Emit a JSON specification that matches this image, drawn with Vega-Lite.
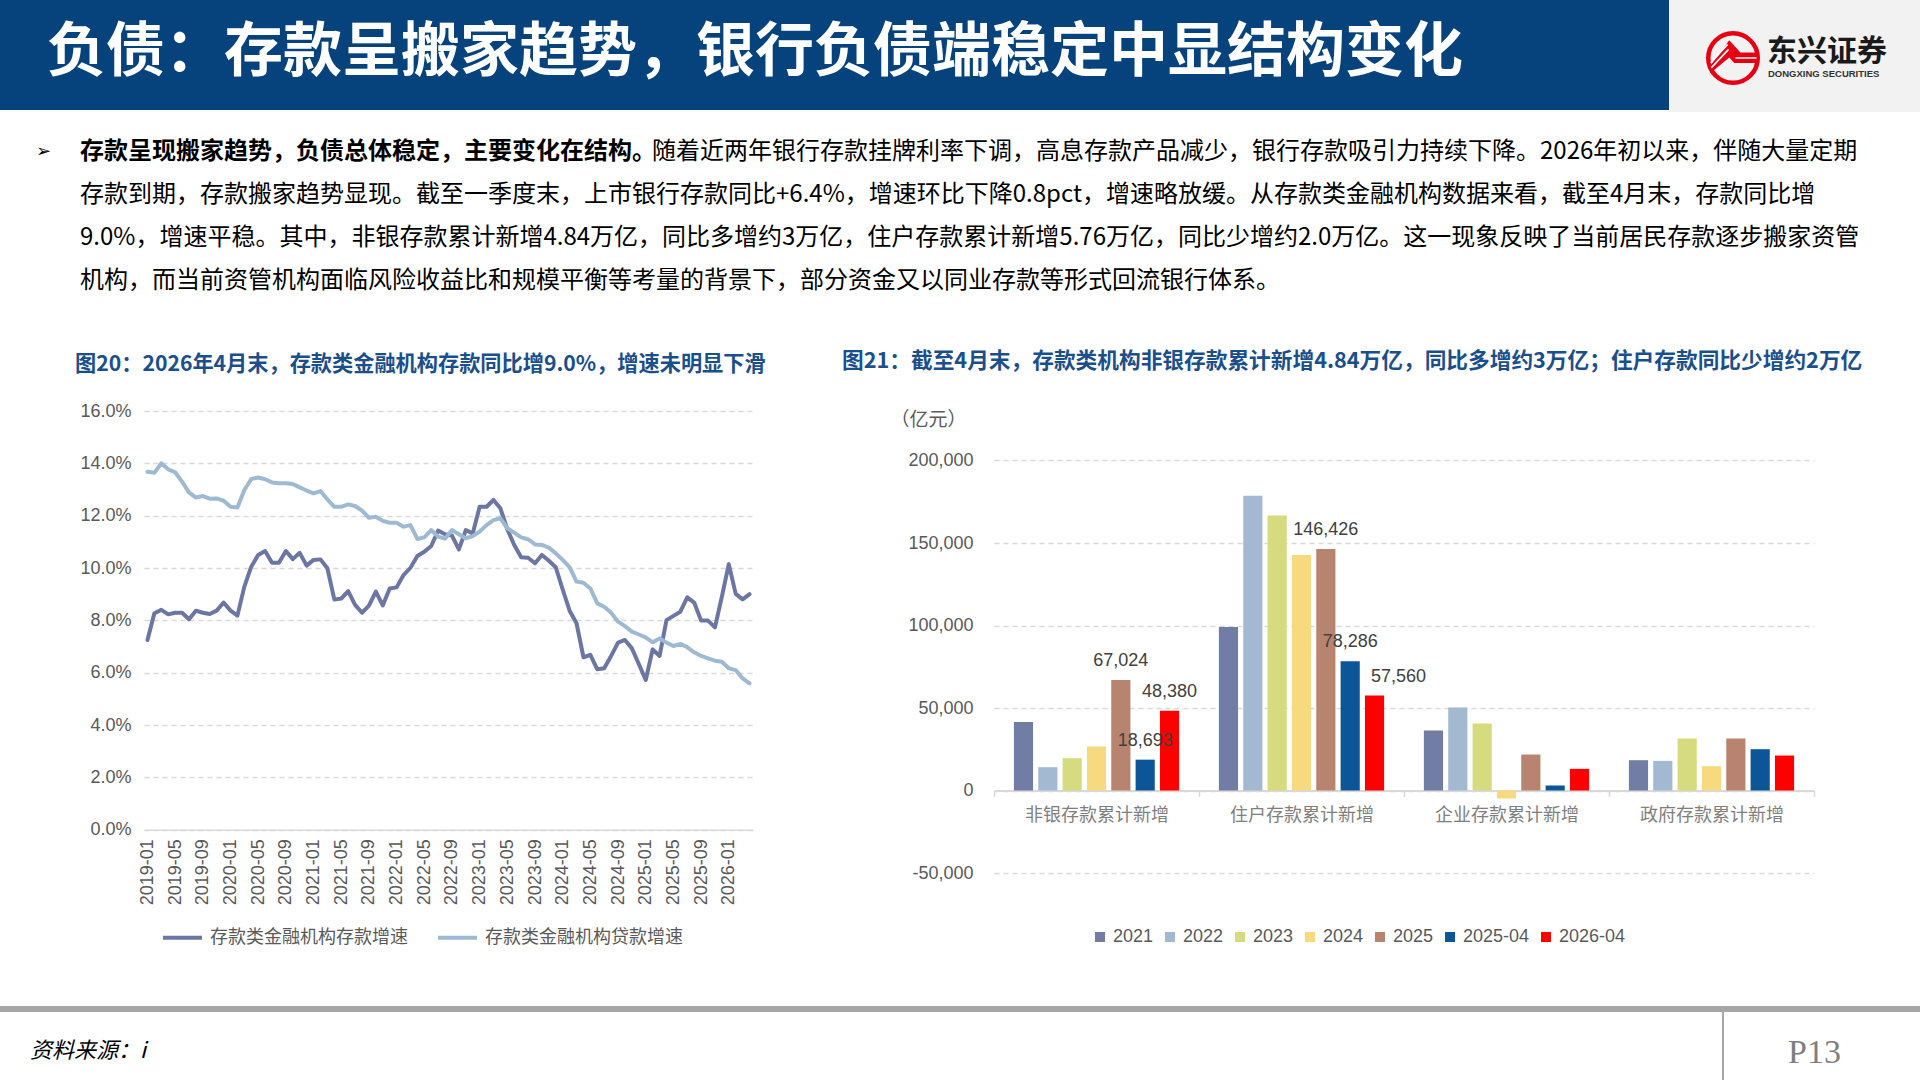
{
  "$schema": "https://vega.github.io/schema/vega-lite/v6.json",
  "padding": 0,
  "spacing": 0,
  "bounds": "flush",
  "resolve": {"scale": {"color": "independent", "x": "independent", "y": "independent"}, "legend": {"color": "independent"}},
  "config": {
    "view": {"stroke": null},
    "font": "Liberation Sans, Noto Sans CJK SC, sans-serif",
    "axis": {"labelFont": "Liberation Sans, Noto Sans CJK SC, sans-serif", "titleFont": "Liberation Sans, Noto Sans CJK SC, sans-serif"},
    "legend": {"labelFont": "Liberation Sans, Noto Sans CJK SC, sans-serif"}
  },
  "hconcat": [
    {
      "width": 143.8,
      "height": 462,
      "data": {"values": [{}]},
      "layer": [
        {"mark": {"type": "rect", "color": "#06437D"}, "encoding": {"x": {"value": 0}, "x2": {"value": 1669}, "y": {"value": -411}, "y2": {"value": -301}}},
        {"mark": {"type": "rect", "color": "#F2F2F2"}, "encoding": {"x": {"value": 1669}, "x2": {"value": 1920}, "y": {"value": -411}, "y2": {"value": -299}}},
        {"mark": {"type": "text", "font": "Noto Sans CJK SC", "fontSize": 59, "fontWeight": "bold", "color": "#FFFFFF", "align": "left", "baseline": "middle"}, "encoding": {"x": {"value": 47}, "y": {"value": -358}, "text": {"value": "负债：存款呈搬家趋势，银行负债端稳定中显结构变化"}}},
        {"mark": {"type": "point", "shape": "circle", "size": 2450, "filled": false, "color": "#E60012", "strokeWidth": 4.5, "opacity": 1}, "encoding": {"x": {"value": 1733}, "y": {"value": -353}}},
        {"mark": {"type": "point", "shape": "M-0.95,0.35 L-0.15,-0.72 L0.3,-0.22 L0.98,-0.22 L0.98,0.2 L0.05,0.2 L-0.15,-0.02 L-0.9,0.6 Z", "size": 2450, "filled": true, "color": "#E60012", "opacity": 1}, "encoding": {"x": {"value": 1733}, "y": {"value": -353}}},
        {"mark": {"type": "point", "shape": "M-0.9,0.2 L-0.22,-0.55 M-0.88,0.4 L-0.18,-0.35 M0.1,0.0 L0.95,0.0", "size": 2450, "filled": false, "color": "#FFFFFF", "strokeWidth": 1.6, "opacity": 1}, "encoding": {"x": {"value": 1733}, "y": {"value": -353}}},
        {"mark": {"type": "text", "font": "Noto Sans CJK SC", "fontSize": 30, "fontWeight": "bold", "color": "#1A1A1A", "align": "left", "baseline": "middle"}, "encoding": {"x": {"value": 1767}, "y": {"value": -359}, "text": {"value": "东兴证券"}}},
        {"mark": {"type": "text", "font": "Liberation Sans", "fontSize": 9.5, "fontWeight": "bold", "color": "#333333", "align": "left", "baseline": "middle"}, "encoding": {"x": {"value": 1768}, "y": {"value": -337}, "text": {"value": "DONGXING SECURITIES"}}},
        {"mark": {"type": "text", "font": "DejaVu Sans", "fontSize": 18, "color": "#000000", "align": "left", "baseline": "middle"}, "encoding": {"x": {"value": 36}, "y": {"value": -259}, "text": {"value": "➢"}}},
        {"mark": {"type": "text", "font": "Noto Sans CJK SC", "fontSize": 24, "fontWeight": "bold", "color": "#000000", "align": "left", "baseline": "middle"}, "encoding": {"x": {"value": 80}, "y": {"value": -259}, "text": {"value": "存款呈现搬家趋势，负债总体稳定，主要变化在结构。"}}},
        {"mark": {"type": "text", "font": "Noto Sans CJK SC", "fontSize": 24, "color": "#000000", "align": "left", "baseline": "middle"}, "encoding": {"x": {"value": 652}, "y": {"value": -259}, "text": {"value": "随着近两年银行存款挂牌利率下调，高息存款产品减少，银行存款吸引力持续下降。2026年初以来，伴随大量定期"}}},
        {"mark": {"type": "text", "font": "Noto Sans CJK SC", "fontSize": 24, "color": "#000000", "align": "left", "baseline": "middle", "lineHeight": 43}, "encoding": {"x": {"value": 80}, "y": {"value": -216}, "text": {"value": ["存款到期，存款搬家趋势显现。截至一季度末，上市银行存款同比+6.4%，增速环比下降0.8pct，增速略放缓。从存款类金融机构数据来看，截至4月末，存款同比增", "9.0%，增速平稳。其中，非银存款累计新增4.84万亿，同比多增约3万亿，住户存款累计新增5.76万亿，同比少增约2.0万亿。这一现象反映了当前居民存款逐步搬家资管", "机构，而当前资管机构面临风险收益比和规模平衡等考量的背景下，部分资金又以同业存款等形式回流银行体系。"]}}},
        {"mark": {"type": "rect", "color": "#A6A6A6"}, "encoding": {"x": {"value": 0}, "x2": {"value": 1920}, "y": {"value": 595}, "y2": {"value": 601}}},
        {"mark": {"type": "rule", "color": "#A6A6A6", "strokeWidth": 2}, "encoding": {"x": {"value": 1723}, "y": {"value": 601}, "y2": {"value": 669}}},
        {"mark": {"type": "text", "font": "Noto Sans CJK SC", "fontSize": 22, "fontStyle": "italic", "color": "#000000", "align": "left", "baseline": "middle"}, "encoding": {"x": {"value": 30}, "y": {"value": 640}, "text": {"value": "资料来源：i"}}},
        {"mark": {"type": "text", "font": "Liberation Serif", "fontSize": 34, "color": "#7F7F7F", "align": "left", "baseline": "middle"}, "encoding": {"x": {"value": 1788}, "y": {"value": 642}, "text": {"value": "P13"}}}
      ]
    },
    {
      "width": 609,
      "height": 418.7,
      "title": {"text": "图20：2026年4月末，存款类金融机构存款同比增9.0%，增速未明显下滑", "anchor": "start", "frame": "group", "dx": -69, "offset": 6, "baseline": "bottom", "font": "Noto Sans CJK SC", "fontSize": 21.2, "fontWeight": "bold", "color": "#1A4F8B"},
      "data": {"values": [
        {"month":"2019-01","deposit":7.25,"loan":13.68},
        {"month":"2019-02","deposit":8.27,"loan":13.64},
        {"month":"2019-03","deposit":8.40,"loan":14.00},
        {"month":"2019-04","deposit":8.23,"loan":13.77},
        {"month":"2019-05","deposit":8.29,"loan":13.66},
        {"month":"2019-06","deposit":8.29,"loan":13.30},
        {"month":"2019-07","deposit":8.04,"loan":12.89},
        {"month":"2019-08","deposit":8.37,"loan":12.69},
        {"month":"2019-09","deposit":8.29,"loan":12.75},
        {"month":"2019-10","deposit":8.24,"loan":12.65},
        {"month":"2019-11","deposit":8.37,"loan":12.66},
        {"month":"2019-12","deposit":8.68,"loan":12.57},
        {"month":"2020-01","deposit":8.37,"loan":12.34},
        {"month":"2020-02","deposit":8.18,"loan":12.31},
        {"month":"2020-03","deposit":9.29,"loan":12.98},
        {"month":"2020-04","deposit":10.05,"loan":13.40},
        {"month":"2020-05","deposit":10.50,"loan":13.46},
        {"month":"2020-06","deposit":10.65,"loan":13.39},
        {"month":"2020-07","deposit":10.20,"loan":13.27},
        {"month":"2020-08","deposit":10.20,"loan":13.24},
        {"month":"2020-09","deposit":10.65,"loan":13.24},
        {"month":"2020-10","deposit":10.34,"loan":13.21},
        {"month":"2020-11","deposit":10.58,"loan":13.08},
        {"month":"2020-12","deposit":10.09,"loan":12.96},
        {"month":"2021-01","deposit":10.31,"loan":12.85},
        {"month":"2021-02","deposit":10.33,"loan":12.94},
        {"month":"2021-03","deposit":9.99,"loan":12.62},
        {"month":"2021-04","deposit":8.80,"loan":12.34},
        {"month":"2021-05","deposit":8.83,"loan":12.34},
        {"month":"2021-06","deposit":9.12,"loan":12.43},
        {"month":"2021-07","deposit":8.59,"loan":12.37},
        {"month":"2021-08","deposit":8.29,"loan":12.19},
        {"month":"2021-09","deposit":8.56,"loan":11.92},
        {"month":"2021-10","deposit":9.10,"loan":11.96},
        {"month":"2021-11","deposit":8.57,"loan":11.80},
        {"month":"2021-12","deposit":9.22,"loan":11.73},
        {"month":"2022-01","deposit":9.26,"loan":11.73},
        {"month":"2022-02","deposit":9.73,"loan":11.58},
        {"month":"2022-03","deposit":10.01,"loan":11.64},
        {"month":"2022-04","deposit":10.46,"loan":11.11},
        {"month":"2022-05","deposit":10.62,"loan":11.17},
        {"month":"2022-06","deposit":10.84,"loan":11.45},
        {"month":"2022-07","deposit":11.43,"loan":11.20},
        {"month":"2022-08","deposit":11.29,"loan":11.12},
        {"month":"2022-09","deposit":11.24,"loan":11.45},
        {"month":"2022-10","deposit":10.71,"loan":11.29},
        {"month":"2022-11","deposit":11.45,"loan":11.13},
        {"month":"2022-12","deposit":11.32,"loan":11.22},
        {"month":"2023-01","deposit":12.34,"loan":11.39},
        {"month":"2023-02","deposit":12.34,"loan":11.64},
        {"month":"2023-03","deposit":12.60,"loan":11.83},
        {"month":"2023-04","deposit":12.28,"loan":11.90},
        {"month":"2023-05","deposit":11.48,"loan":11.52},
        {"month":"2023-06","deposit":10.88,"loan":11.35},
        {"month":"2023-07","deposit":10.41,"loan":11.17},
        {"month":"2023-08","deposit":10.39,"loan":11.10},
        {"month":"2023-09","deposit":10.18,"loan":10.90},
        {"month":"2023-10","deposit":10.50,"loan":10.88},
        {"month":"2023-11","deposit":10.28,"loan":10.78},
        {"month":"2023-12","deposit":10.03,"loan":10.56},
        {"month":"2024-01","deposit":9.18,"loan":10.31},
        {"month":"2024-02","deposit":8.37,"loan":10.03},
        {"month":"2024-03","deposit":7.89,"loan":9.48},
        {"month":"2024-04","deposit":6.59,"loan":9.44},
        {"month":"2024-05","deposit":6.68,"loan":9.22},
        {"month":"2024-06","deposit":6.13,"loan":8.65},
        {"month":"2024-07","deposit":6.17,"loan":8.52},
        {"month":"2024-08","deposit":6.64,"loan":8.29},
        {"month":"2024-09","deposit":7.15,"loan":7.95},
        {"month":"2024-10","deposit":7.25,"loan":7.78},
        {"month":"2024-11","deposit":6.93,"loan":7.57},
        {"month":"2024-12","deposit":6.33,"loan":7.46},
        {"month":"2025-01","deposit":5.72,"loan":7.35},
        {"month":"2025-02","deposit":6.89,"loan":7.16},
        {"month":"2025-03","deposit":6.64,"loan":7.31},
        {"month":"2025-04","deposit":8.01,"loan":7.15},
        {"month":"2025-05","deposit":8.17,"loan":7.02},
        {"month":"2025-06","deposit":8.33,"loan":7.10},
        {"month":"2025-07","deposit":8.88,"loan":6.97},
        {"month":"2025-08","deposit":8.68,"loan":6.78},
        {"month":"2025-09","deposit":7.99,"loan":6.64},
        {"month":"2025-10","deposit":7.99,"loan":6.55},
        {"month":"2025-11","deposit":7.73,"loan":6.46},
        {"month":"2025-12","deposit":8.90,"loan":6.42},
        {"month":"2026-01","deposit":10.15,"loan":6.17},
        {"month":"2026-02","deposit":9.01,"loan":6.10},
        {"month":"2026-03","deposit":8.80,"loan":5.78},
        {"month":"2026-04","deposit":9.00,"loan":5.59}
      ]},
      "transform": [{"fold": ["deposit", "loan"], "as": ["series", "value"]}],
      "mark": {"type": "line", "strokeWidth": 4, "strokeJoin": "round", "strokeCap": "round"},
      "encoding": {
        "x": {"field": "month", "type": "ordinal", "sort": null, "scale": {"type": "point", "padding": 0.5},
          "axis": {"title": null, "values": ["2019-01","2019-05","2019-09","2020-01","2020-05","2020-09","2021-01","2021-05","2021-09","2022-01","2022-05","2022-09","2023-01","2023-05","2023-09","2024-01","2024-05","2024-09","2025-01","2025-05","2025-09","2026-01"],
            "labelAngle": 270, "labelFontSize": 18, "labelColor": "#595959", "labelPadding": 9, "ticks": false, "domain": true, "domainColor": "#D9D9D9", "domainWidth": 1.5, "grid": false}},
        "y": {"field": "value", "type": "quantitative", "scale": {"domain": [0, 16], "nice": false},
          "axis": {"title": null, "values": [0,2,4,6,8,10,12,14,16], "labelExpr": "format(datum.value, '.1f') + '%'", "labelFontSize": 18, "labelColor": "#595959", "labelPadding": 13, "domain": false, "ticks": false, "gridColor": "#D9D9D9", "gridDash": [5, 4], "gridWidth": 1.3}},
        "color": {"field": "series", "type": "nominal", "scale": {"domain": ["deposit", "loan"], "range": ["#6B76A3", "#9EBAD2"]},
          "legend": {"orient": "none", "legendX": 17, "legendY": 505, "direction": "horizontal", "title": null, "symbolType": "stroke", "symbolSize": 1521, "symbolStrokeWidth": 4, "labelFontSize": 18, "labelColor": "#595959", "labelLimit": 400, "columnPadding": 22, "labelOffset": 6,
            "labelExpr": "datum.label == 'deposit' ? '存款类金融机构存款增速' : '存款类金融机构贷款增速'"}}
      }
    },
    {"width": 240.2, "height": 10, "data": {"values": [{}]}, "mark": {"type": "text"}, "encoding": {"text": {"value": ""}}},
    {
      "width": 820,
      "height": 462,
      "title": {"text": "图21：截至4月末，存款类机构非银存款累计新增4.84万亿，同比多增约3万亿；住户存款同比少增约2万亿", "anchor": "start", "frame": "group", "dx": -152, "offset": 15, "baseline": "bottom", "font": "Noto Sans CJK SC", "fontSize": 21.7, "fontWeight": "bold", "color": "#1A4F8B"},
      "data": {"values": [
        {"category": "非银存款累计新增", "series": "2021", "value": 41575},
        {"category": "非银存款累计新增", "series": "2022", "value": 14130},
        {"category": "非银存款累计新增", "series": "2023", "value": 19580},
        {"category": "非银存款累计新增", "series": "2024", "value": 26640},
        {"category": "非银存款累计新增", "series": "2025", "value": 67024, "show": true},
        {"category": "非银存款累计新增", "series": "2025-04", "value": 18693, "show": true},
        {"category": "非银存款累计新增", "series": "2026-04", "value": 48380, "show": true},
        {"category": "住户存款累计新增", "series": "2021", "value": 99090},
        {"category": "住户存款累计新增", "series": "2022", "value": 178600},
        {"category": "住户存款累计新增", "series": "2023", "value": 166700},
        {"category": "住户存款累计新增", "series": "2024", "value": 142680},
        {"category": "住户存款累计新增", "series": "2025", "value": 146426, "show": true},
        {"category": "住户存款累计新增", "series": "2025-04", "value": 78286, "show": true},
        {"category": "住户存款累计新增", "series": "2026-04", "value": 57560, "show": true},
        {"category": "企业存款累计新增", "series": "2021", "value": 36330},
        {"category": "企业存款累计新增", "series": "2022", "value": 50250},
        {"category": "企业存款累计新增", "series": "2023", "value": 40570},
        {"category": "企业存款累计新增", "series": "2024", "value": -4840},
        {"category": "企业存款累计新增", "series": "2025", "value": 21800},
        {"category": "企业存款累计新增", "series": "2025-04", "value": 3030},
        {"category": "企业存款累计新增", "series": "2026-04", "value": 13120},
        {"category": "政府存款累计新增", "series": "2021", "value": 18370},
        {"category": "政府存款累计新增", "series": "2022", "value": 17960},
        {"category": "政府存款累计新增", "series": "2023", "value": 31480},
        {"category": "政府存款累计新增", "series": "2024", "value": 14730},
        {"category": "政府存款累计新增", "series": "2025", "value": 31480},
        {"category": "政府存款累计新增", "series": "2025-04", "value": 25030},
        {"category": "政府存款累计新增", "series": "2026-04", "value": 21190}
      ]},
      "encoding": {
        "x": {"field": "category", "type": "nominal", "sort": ["非银存款累计新增", "住户存款累计新增", "企业存款累计新增", "政府存款累计新增"], "scale": {"paddingInner": 0, "paddingOuter": 0},
          "axis": {"title": null, "orient": "bottom", "offset": -82.6, "labelAngle": 0, "labelFontSize": 18, "labelColor": "#7F7F7F", "labelPadding": 10, "domainColor": "#D9D9D9", "domainWidth": 2, "ticks": true, "tickBand": "extent", "tickColor": "#D9D9D9", "tickSize": 6, "tickWidth": 1.5, "grid": false}},
        "y": {"field": "value", "type": "quantitative", "scale": {"domain": [-50000, 230000], "nice": false},
          "axis": {"title": "（亿元）", "titleFont": "Noto Sans CJK SC", "titleAngle": 0, "titleAlign": "left", "titleBaseline": "middle", "titleX": -104, "titleY": 8, "titleFontSize": 19, "titleFontWeight": "normal", "titleColor": "#595959",
            "values": [-50000, 0, 50000, 100000, 150000, 200000], "labelExpr": "replace(format(datum.value, ','), '−', '-')", "labelFontSize": 18, "labelColor": "#595959", "labelPadding": 21, "domain": false, "ticks": false, "gridColor": "#D9D9D9", "gridDash": [5, 4], "gridWidth": 1.3}}
      },
      "layer": [
        {
          "mark": {"type": "bar"},
          "encoding": {
            "xOffset": {"field": "series", "type": "nominal", "sort": ["2021", "2022", "2023", "2024", "2025", "2025-04", "2026-04"], "scale": {"paddingInner": 0.213, "paddingOuter": 0.817}},
            "color": {"field": "series", "type": "nominal", "sort": ["2021", "2022", "2023", "2024", "2025", "2025-04", "2026-04"],
              "scale": {"domain": ["2021", "2022", "2023", "2024", "2025", "2025-04", "2026-04"], "range": ["#717DA4", "#A3B9D1", "#D5DB7E", "#F7DA7F", "#B8836F", "#0C5597", "#FE0000"]},
              "legend": {"orient": "none", "legendX": 97, "legendY": 517, "direction": "horizontal", "title": null, "symbolType": "square", "symbolSize": 100, "symbolStrokeWidth": 0, "labelFontSize": 18, "labelColor": "#595959", "columnPadding": 7, "labelOffset": 4}}
          }
        },
        {
          "transform": [{"filter": "datum.show === true && !(datum.category == '住户存款累计新增' && datum.series == '2026-04')"}],
          "mark": {"type": "text", "baseline": "bottom", "dy": -10, "fontSize": 18, "color": "#404040"},
          "encoding": {
            "xOffset": {"field": "series", "type": "nominal", "sort": ["2021", "2022", "2023", "2024", "2025", "2025-04", "2026-04"], "scale": {"paddingInner": 0.213, "paddingOuter": 0.817}},
            "text": {"field": "value", "type": "quantitative", "format": ","}
          }
        },
        {
          "transform": [{"filter": "datum.show === true && datum.category == '住户存款累计新增' && datum.series == '2026-04'"}],
          "mark": {"type": "text", "baseline": "bottom", "dy": -10, "dx": 24, "fontSize": 18, "color": "#404040"},
          "encoding": {
            "xOffset": {"field": "series", "type": "nominal", "sort": ["2021", "2022", "2023", "2024", "2025", "2025-04", "2026-04"], "scale": {"paddingInner": 0.213, "paddingOuter": 0.817}},
            "text": {"field": "value", "type": "quantitative", "format": ","}
          }
        }
      ]
    },
    {"width": 107, "height": 10, "data": {"values": [{}]}, "mark": {"type": "text"}, "encoding": {"text": {"value": ""}}}
  ]
}
